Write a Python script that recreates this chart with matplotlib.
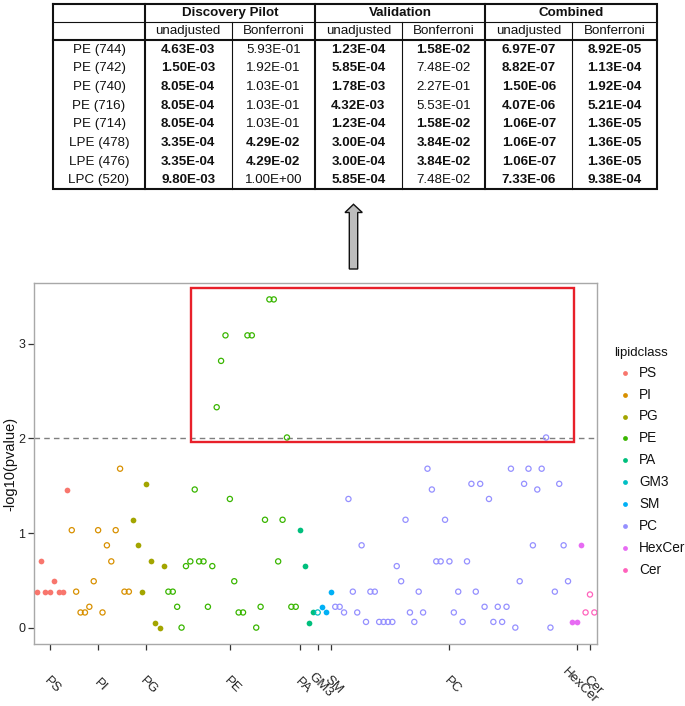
import numpy as np
import matplotlib
matplotlib.use("Agg")
import matplotlib.pyplot as plt
from matplotlib.patches import Rectangle, Polygon
from matplotlib.transforms import ScaledTranslation

plt.rcParams["font.family"] = ["Liberation Sans", "DejaVu Sans"]

# ---- table of p-values (top panel) ----
table_rows = ["PE (744)", "PE (742)", "PE (740)", "PE (716)", "PE (714)",
              "LPE (478)", "LPE (476)", "LPC (520)"]
studies = ["Discovery Pilot", "Validation", "Combined"]
sub_headers = ["unadjusted", "Bonferroni"]
disc_unadj = [4.63e-03, 1.50e-03, 8.05e-04, 8.05e-04, 8.05e-04, 3.35e-04, 3.35e-04, 9.80e-03]
disc_bonf = [5.93e-01, 1.92e-01, 1.03e-01, 1.03e-01, 1.03e-01, 4.29e-02, 4.29e-02, 1.00e+00]
val_unadj = [1.23e-04, 5.85e-04, 1.78e-03, 4.32e-03, 1.23e-04, 3.00e-04, 3.00e-04, 5.85e-04]
val_bonf = [1.58e-02, 7.48e-02, 2.27e-01, 5.53e-01, 1.58e-02, 3.84e-02, 3.84e-02, 7.48e-02]
comb_unadj = [6.97e-07, 8.82e-07, 1.50e-06, 4.07e-06, 1.06e-07, 1.06e-07, 1.06e-07, 7.33e-06]
comb_bonf = [8.92e-05, 1.13e-04, 1.92e-04, 5.21e-04, 1.36e-05, 1.36e-05, 1.36e-05, 9.38e-04]

# ---- -log10(pvalue) per lipid, grouped by class (bottom panel) ----
lipid_classes = ["PS", "PI", "PG", "PE", "PA", "GM3", "SM", "PC", "HexCer", "Cer"]
class_colors = ["#F8766D", "#D89000", "#A3A500", "#39B600", "#00BF7D",
                "#00BFC4", "#00B0F6", "#9590FF", "#E76BF3", "#FF62BC"]
class_filled = [True, False, True, False, True, False, True, False, True, False]

ps_vals = [0.38, 0.70, 0.38, 0.38, 0.49, 0.38, 0.38, 1.46]
pi_vals = [1.03, 0.38, 0.16, 0.16, 0.22, 0.49, 1.03, 0.16, 0.87, 0.70, 1.03, 1.68, 0.38, 0.38]
pg_vals = [1.14, 0.87, 0.38, 1.52, 0.70, 0.05, 0.00, 0.65]
pe_vals = [0.38, 0.38, 0.22, 0.00, 0.65, 0.70, 1.46, 0.70, 0.70, 0.22,
           0.65, 2.33, 2.82, 3.09, 1.36, 0.49, 0.16, 0.16, 3.09, 3.09,
           0.00, 0.22, 1.14, 3.47, 3.47, 0.70, 1.14, 2.01, 0.22, 0.22]
pa_vals = [1.03, 0.65, 0.05, 0.16]
gm3_vals = [0.16]
sm_vals = [0.22, 0.16, 0.38]
pc_vals = [0.22, 0.22, 0.16, 1.36, 0.38, 0.16, 0.87, 0.06, 0.38, 0.38,
           0.06, 0.06, 0.06, 0.06, 0.65, 0.49, 1.14, 0.16, 0.06, 0.38,
           0.16, 1.68, 1.46, 0.70, 0.70, 1.14, 0.70, 0.16, 0.38, 0.06,
           0.70, 1.52, 0.38, 1.52, 0.22, 1.36, 0.06, 0.22, 0.06, 0.22,
           1.68, 0.00, 0.49, 1.52, 1.68, 0.87, 1.46, 1.68, 2.01, 0.00,
           0.38, 1.52, 0.87, 0.49]
hexcer_vals = [0.06, 0.06, 0.87]
cer_vals = [0.16, 0.35, 0.16]
class_values = [ps_vals, pi_vals, pg_vals, pe_vals, pa_vals, gm3_vals,
                sm_vals, pc_vals, hexcer_vals, cer_vals]

# where the class labels sit on the x axis (lipid index)
class_tick_pos = [3, 14, 25, 44, 60, 64, 67, 94, 123, 126]
threshold = 2.0
# highlight box around the significant hits (x in lipid index, y in -log10 p)
box_x = (35.15, 122.4)
box_y = (1.96, 3.59)

W, H = 685, 706
fig = plt.figure(figsize=(W / 100, H / 100), dpi=100)

# overlay in pixel coordinates for table, arrow and legend
over = fig.add_axes([0, 0, 1, 1])
over.set_xlim(0, W)
over.set_ylim(H, 0)
over.axis("off")

# ---- table ----
tl, tr, tt, tb = 53.5, 656.6, 3.5, 189.0
r1, r2 = 21.7, 40.0
col_edges = [tl, 144.7, 231.6, 315.0, 401.8, 485.5, 572.4, tr]
row_h = (tb - r2) / len(table_rows)
thick, thin = 1.5, 0.8
k = "#111111"
over.plot([tl, tr, tr, tl, tl], [tt, tt, tb, tb, tt], color=k, lw=thick, solid_joinstyle="miter")
over.plot([tl, tr], [r1, r1], color=k, lw=thin)
over.plot([tl, tr], [r2, r2], color=k, lw=thick)
for j, x in enumerate(col_edges[1:-1]):
    if j % 2 == 0:
        over.plot([x, x], [tt, tb], color=k, lw=thick)
    else:
        over.plot([x, x], [r1, tb], color=k, lw=thin)

fs_tab = 9.6
for s, name in enumerate(studies):
    xc = (col_edges[1 + 2 * s] + col_edges[3 + 2 * s]) / 2
    over.text(xc, (tt + r1) / 2 + 0.5, name, ha="center", va="center",
              fontsize=fs_tab, fontweight="bold", color=k)
    for h, sub in enumerate(sub_headers):
        xc = (col_edges[1 + 2 * s + h] + col_edges[2 + 2 * s + h]) / 2
        over.text(xc, (r1 + r2) / 2 + 0.5, sub, ha="center", va="center",
                  fontsize=fs_tab, color=k)

columns = [disc_unadj, disc_bonf, val_unadj, val_bonf, comb_unadj, comb_bonf]
for i, lab in enumerate(table_rows):
    yc = r2 + (i + 0.5) * row_h + 0.5
    over.text((col_edges[0] + col_edges[1]) / 2, yc, lab, ha="center", va="center",
              fontsize=fs_tab, color=k)
    for c, col in enumerate(columns):
        v = col[i]
        xc = (col_edges[1 + c] + col_edges[2 + c]) / 2
        over.text(xc, yc, f"{v:.2E}", ha="center", va="center", fontsize=fs_tab,
                  fontweight="bold" if v < 0.05 else "normal", color=k)

# ---- arrow ----
arrow = Polygon([(353.5, 204.3), (362.3, 212.5), (357.7, 212.5), (357.7, 269),
                 (349.3, 269), (349.3, 212.5), (345.0, 212.5)], closed=True,
                facecolor="#bdbdbd", edgecolor="#111111", lw=1.0)
over.add_patch(arrow)

# ---- scatter panel ----
ax = fig.add_axes([34 / W, (H - 644) / H, 563 / W, 361 / H])
start = 0
for name, vals, col, filled in zip(lipid_classes, class_values, class_colors, class_filled):
    xs = np.arange(start, start + len(vals))
    if filled:
        ax.scatter(xs, vals, s=17, color=col, linewidths=0, zorder=3)
    else:
        ax.scatter(xs, vals, s=14, facecolors="none", edgecolors=col, linewidths=0.9, zorder=3)
    start += len(vals)
n_total = start
all_vals = np.concatenate([np.asarray(v) for v in class_values])
pad = 0.05 * (all_vals.max() - all_vals.min())
ax.set_xlim(-0.6, n_total - 1 + 0.6)
ax.set_ylim(all_vals.min() - pad, all_vals.max() + pad)

ax.axhline(threshold, color="#7f7f7f", lw=1.0, ls=(0, (4, 3)), zorder=2)
ax.add_patch(Rectangle((box_x[0], box_y[0]), box_x[1] - box_x[0], box_y[1] - box_y[0],
                       fill=False, edgecolor="#e8202a", lw=1.7, zorder=4))

for sp in ax.spines.values():
    sp.set_color("#a8a8a8")
    sp.set_linewidth(1.0)
ax.set_yticks([0, 1, 2, 3])
ax.tick_params(axis="y", length=4.2, width=0.9, color="#333333", labelsize=9,
               labelcolor="#222222", pad=2)
ax.set_xticks(class_tick_pos)
ax.set_xticklabels(lipid_classes, rotation=-45, ha="center", va="center",
                   rotation_mode="anchor", fontsize=9.5, color="#222222")
ax.tick_params(axis="x", length=4.3, width=0.9, color="#333333", pad=25.5)
for lbl in ax.get_xticklabels():
    lbl.set_transform(lbl.get_transform() + ScaledTranslation(2 / 72, 0, fig.dpi_scale_trans))
ax.set_ylabel("-log10(pvalue)", fontsize=10.5, color="#111111")
ax.yaxis.set_label_coords((17 - 34) / 563, 0.5)

# ---- legend ----
over.text(614, 352.7, "lipidclass", ha="left", va="center", fontsize=9.5, color="#111111")
for j, (name, col) in enumerate(zip(lipid_classes, class_colors)):
    yy = 372.7 + j * 21.9
    over.scatter([625.3], [yy], s=12, color=col, linewidths=0)
    over.text(639.3, yy, name, ha="left", va="center", fontsize=9.8, color="#111111")

fig.savefig("out.png", dpi=100)
